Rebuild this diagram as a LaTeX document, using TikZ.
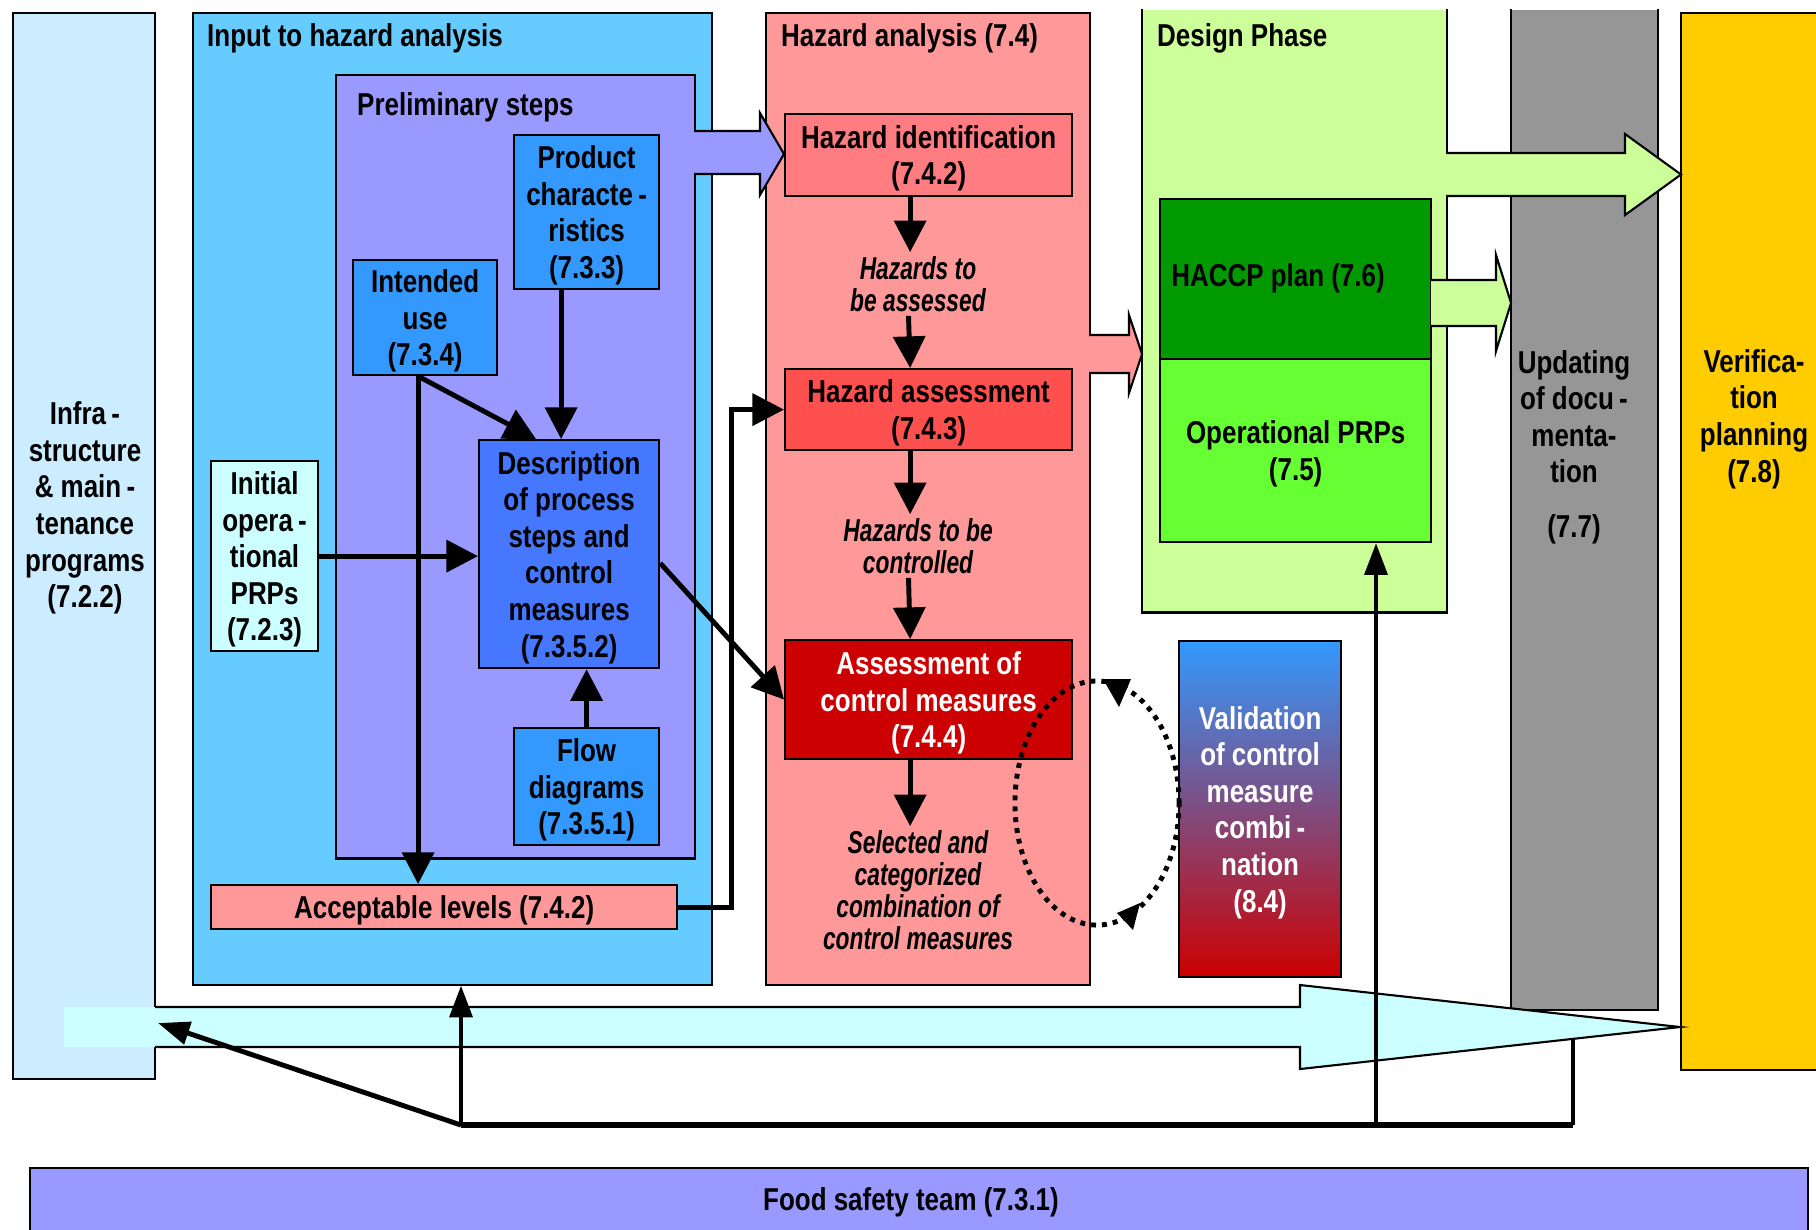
\documentclass[tikz,border=0pt]{standalone}
\usepackage{fontspec}
\setmainfont{Liberation Sans}[FakeStretch=0.82]
\newfontfamily\notefont{Liberation Sans}[FakeStretch=0.72]
\usetikzlibrary{arrows.meta, positioning, calc}

\definecolor{infrabg}{RGB}{204,236,255}
\definecolor{inputbg}{RGB}{102,204,255}
\definecolor{prelimbg}{RGB}{153,153,255}
\definecolor{itembg}{RGB}{51,153,255}
\definecolor{descbg}{RGB}{70,120,255}
\definecolor{initbg}{RGB}{204,255,255}
\definecolor{hazbg}{RGB}{255,153,153}
\definecolor{hazidbg}{RGB}{255,124,128}
\definecolor{hazassbg}{RGB}{255,80,80}
\definecolor{hazcmbg}{RGB}{204,0,0}
\definecolor{designbg}{RGB}{204,255,153}
\definecolor{haccpbg}{RGB}{0,153,0}
\definecolor{oprpbg}{RGB}{102,255,51}
\definecolor{updgray}{RGB}{150,150,150}
\definecolor{verifbg}{RGB}{255,204,0}
\definecolor{valtop}{RGB}{51,153,255}
\definecolor{valbot}{RGB}{204,0,0}

\newcommand\boxfont{\fontsize{9}{10.4}\selectfont\bfseries}

\begin{document}
\begin{tikzpicture}[x=0.01cm, y=-0.01cm,
  box/.style={draw=black, line width=0.6pt, anchor=north west, inner sep=0pt,
              font=\boxfont, align=center, text depth=0pt},
  lbl/.style={font=\boxfont, align=center, inner sep=1pt},
  note/.style={font=\notefont\fontsize{9}{9.1}\selectfont\bfseries\itshape,
               align=center, inner sep=1pt},
  outline/.style={line width=0.6pt},
  link/.style={line width=1.4pt, -{Triangle[length=9pt, width=9pt]}},
  feed/.style={line width=1.1pt, -{Triangle[length=9pt, width=6.5pt]}},
  base/.style={line width=1.1pt},
  loopdots/.style={line width=1.4pt, dash pattern=on 1.4pt off 1.7pt}]

\useasboundingbox (0,0) rectangle (1816,1229);
\clip (0,0) rectangle (1816,1229);
\fill[white] (0,0) rectangle (1816,1229);

% Columns in the background
\node[box, fill=infrabg, minimum width=1.42cm, minimum height=10.65cm] (infra) at (12,12) {};
\node[lbl] (infratxt) at (85,508) {Infra\,-\\structure\\\& main\,-\\tenance\\programs\\(7.2.2)};

\node[box, fill=inputbg, minimum width=5.19cm, minimum height=9.71cm] (input) at (192,12) {};
\node[lbl, anchor=west] (inputtitle) at (203,38) {Input to hazard analysis};

\node[box, fill=prelimbg, minimum width=3.59cm, minimum height=7.83cm] (prelim) at (335,74) {};
\node[lbl, anchor=west] (prelimtitle) at (353,107) {Preliminary steps};

\node[box, fill=hazbg, minimum width=3.24cm, minimum height=9.71cm] (hazbox) at (765,12) {};
\node[lbl, anchor=west] (haztitle) at (777,38) {Hazard analysis (7.4)};

\node[box, draw=none, fill=designbg, minimum width=3.03cm, minimum height=6.01cm] (design) at (1142,9) {};
\draw[outline] (design.north west) -- (design.south west) -- (design.south east) -- (design.north east);
\node[lbl, anchor=west] (designtitle) at (1153,38) {Design Phase};

\node[box, draw=none, fill=updgray, minimum width=1.45cm, minimum height=9.98cm] (update) at (1511,9) {};
\draw[outline] (update.north west) -- (update.south west) -- (update.south east) -- (update.north east);
\node[lbl] (updatetxt) at (1574,447) {Updating\\of docu\,-\\menta-\\tion\\[5pt](7.7)};

\node[box, fill=verifbg, minimum width=1.6cm, minimum height=10.56cm] (verif) at (1680,12) {};
\node[lbl] (veriftxt) at (1754,419) {Verifica-\\tion\\planning\\(7.8)};

\node[box, fill=prelimbg, minimum width=17.77cm, minimum height=0.8cm] (team) at (29,1167) {};
\node[lbl] (teamtxt) at (911,1202) {Food safety team (7.3.1)};

% Preliminary steps
\node[box, fill=itembg, minimum width=1.45cm, minimum height=1.54cm] (prod) at (513,134) {Product\\characte\,-\\ristics\\(7.3.3)};
\node[box, fill=itembg, minimum width=1.44cm, minimum height=1.15cm] (intended) at (352,259) {Intended\\use\\(7.3.4)};
\node[box, fill=initbg, minimum width=1.07cm, minimum height=1.90cm] (initial) at (210,460) {Initial\\opera\,-\\tional\\PRPs\\(7.2.3)};
\node[box, fill=descbg, minimum width=1.80cm, minimum height=2.28cm] (desc) at (478,439) {Description\\of process\\steps and\\control\\measures\\(7.3.5.2)};
\node[box, fill=itembg, minimum width=1.45cm, minimum height=1.17cm] (flowdiag) at (513,727) {Flow\\diagrams\\(7.3.5.1)};
\node[box, fill=hazbg, minimum width=4.66cm, minimum height=0.44cm] (accept) at (210,884) {Acceptable levels (7.4.2)};

% Hazard analysis
\node[box, fill=hazidbg, minimum width=2.87cm, minimum height=0.82cm] (hazid) at (784,113) {Hazard identification\\(7.4.2)};
\node[box, fill=hazassbg, minimum width=2.87cm, minimum height=0.81cm] (hazass) at (784,368) {Hazard assessment\\(7.4.3)};
\node[box, fill=hazcmbg, text=white, minimum width=2.87cm, minimum height=1.19cm] (hazcm) at (784,639) {Assessment of\\control measures\\(7.4.4)};
\node[note] (note1) at (918,284) {Hazards to\\be assessed};
\node[note] (note2) at (918,546) {Hazards to be\\controlled};
\node[note] (note3) at (918,890) {Selected and\\categorized\\combination of\\control measures};

% Design phase
\node[box, fill=haccpbg, minimum width=2.71cm, minimum height=1.60cm] (haccp) at (1159,198) {};
\node[lbl] (haccptxt) at (1278,278) {HACCP plan (7.6)};
\node[box, fill=oprpbg, minimum width=2.71cm, minimum height=1.83cm] (oprp) at (1159,358) {Operational PRPs\\(7.5)};

\node[box, top color=valtop, bottom color=valbot, text=white, minimum width=1.62cm, minimum height=3.36cm] (valid) at (1178,640) {Validation\\of control\\measure\\combi\,-\\nation\\(8.4)};

% Block arrows
\fill[prelimbg] (692,131) -- (760,131) -- (760,113) -- (784,154) -- (760,195) -- (760,174) -- (692,174) -- cycle;
\draw[outline] (694,131) -- (760,131) -- (760,113) -- (784,154) -- (760,195) -- (760,174) -- (694,174);

\fill[hazbg] (1087,335) -- (1129,335) -- (1129,315) -- (1142,354) -- (1129,393) -- (1129,373) -- (1087,373) -- cycle;
\draw[outline] (1089,335) -- (1129,335) -- (1129,315) -- (1142,354) -- (1129,393) -- (1129,373) -- (1089,373);

\fill[designbg] (1444,153) -- (1625,153) -- (1625,134) -- (1681,174.5) -- (1625,215) -- (1625,196) -- (1444,196) -- cycle;
\draw[outline] (1446,153) -- (1625,153) -- (1625,134) -- (1681,174.5) -- (1625,215) -- (1625,196) -- (1446,196);

\fill[designbg] (1431,280) -- (1496,280) -- (1496,255) -- (1511,303) -- (1496,351) -- (1496,326) -- (1431,326) -- cycle;
\draw[outline] (1431,280) -- (1496,280) -- (1496,255) -- (1511,303) -- (1496,351) -- (1496,326) -- (1431,326);

\fill[initbg] (64,1007) -- (1300,1007) -- (1300,985) -- (1680,1027) -- (1300,1069) -- (1300,1047) -- (64,1047) -- cycle;
\draw[outline] (155,1007) -- (1300,1007) -- (1300,985) -- (1680,1027) -- (1300,1069) -- (1300,1047) -- (155,1047);

% Connectors
\draw[link] ([xshift=-0.255cm]prod.south) -- ([xshift=-0.255cm]prod.south |- desc.north);
\draw[link] ([xshift=-0.07cm]intended.south) -- ([xshift=0.58cm]desc.north west);
\draw[link] ([xshift=-0.07cm]intended.south) -- ([xshift=-0.07cm]intended.south |- accept.north);
\draw[link] (initial.east) -- (initial.east -| desc.west);
\draw[link] (flowdiag.north) -- (flowdiag.north |- desc.south);
\draw[link] ([yshift=-0.09cm]desc.east) -- (hazcm.west);
\draw[link] (accept.east) -- ++(53,0) |- (hazass.west);

\draw[link] ([xshift=-0.185cm]hazid.south) -- ([xshift=-0.185cm]hazid.south |- note1.north);
\draw[link] ([xshift=-0.095cm]note1.south) -- ([xshift=-0.185cm]hazass.north);
\draw[link] ([xshift=-0.185cm]hazass.south) -- ([xshift=-0.185cm]hazass.south |- note2.north);
\draw[link] ([xshift=-0.095cm]note2.south) -- ([xshift=-0.185cm]hazcm.north);
\draw[link] ([xshift=-0.185cm]hazcm.south) -- ([xshift=-0.185cm]hazcm.south |- note3.north);

% Feedback from the food safety team
\coordinate (hub) at (461,1125);
\coordinate (hubm) at (1376,1125);
\coordinate (hubr) at (1573,1125);
\coordinate (infrahit) at (158,1023);
\coordinate (cyanlow) at (1573,1039);
\draw[base, line width=1.9pt] (hub) -- (hubr);
\draw[base] (hubr) -- (cyanlow);
\draw[feed] (hub) -- (hub |- input.south);
\draw[feed, line width=1.4pt] (hub) -- (infrahit);
\draw[feed] (hubm) -- (hubm |- oprp.south);

% Iteration with validation
\draw[loopdots] (1097,803) ellipse [x radius=0.82cm, y radius=1.22cm];
\fill (1103,679) -- (1131,679) -- (1119,707) -- cycle;
\fill (1117,913) -- (1140,903) -- (1133,930) -- cycle;
\end{tikzpicture}
\end{document}
